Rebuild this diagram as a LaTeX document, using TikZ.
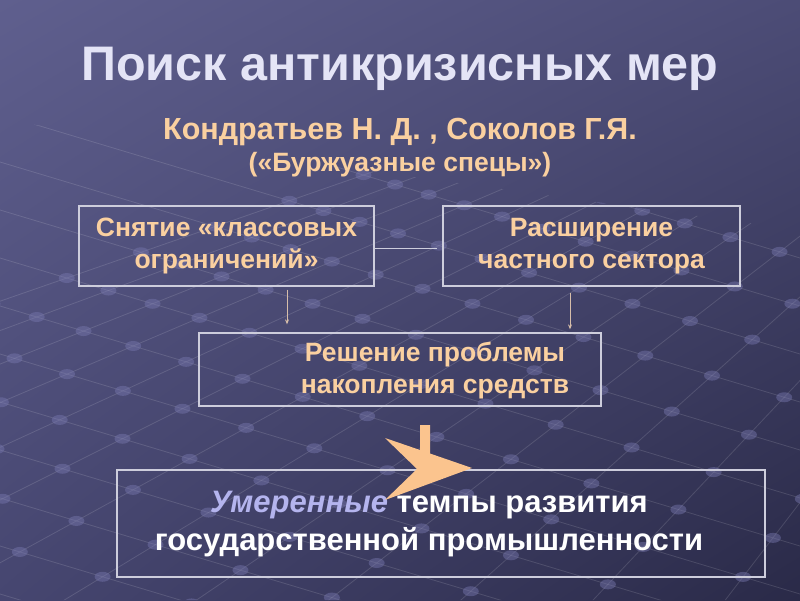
\documentclass[tikz,border=0pt]{standalone}
\usepackage{fontspec}
\setmainfont{Liberation Sans}
\usetikzlibrary{arrows.meta,shadings}
\definecolor{bgUL}{RGB}{95,95,142}
\definecolor{bgUR}{RGB}{76,76,118}
\definecolor{bgLL}{RGB}{70,70,112}
\definecolor{bgLR}{RGB}{42,42,72}
\definecolor{titlec}{RGB}{228,228,246}
\definecolor{peachtext}{RGB}{250,208,160}
\definecolor{boxline}{RGB}{205,205,220}
\definecolor{arrowc}{RGB}{215,190,170}
\definecolor{chevc}{RGB}{251,196,142}
\definecolor{moder}{RGB}{180,180,238}
\definecolor{dotc}{RGB}{120,120,175}
\begin{document}
\begin{tikzpicture}[x=1pt,y=-1pt,
  titlestyle/.style={text=titlec, font=\fontsize{48.5}{54}\selectfont\bfseries, inner sep=0},
  substyle/.style={text=peachtext, font=\fontsize{30.5}{36}\selectfont\bfseries, inner sep=0},
  parenstyle/.style={text=peachtext, font=\fontsize{26.5}{32}\selectfont\bfseries, inner sep=0},
  box/.style={draw=boxline, line width=1.3pt, inner sep=0},
  peach/.style={text=peachtext, font=\fontsize{26.5}{32}\selectfont\bfseries, align=center},
  bigtext/.style={text=white, font=\fontsize{31}{38}\selectfont\bfseries, align=center},
  link/.style={draw=boxline, line width=0.8pt},
  drop/.style={draw=arrowc, line width=0.8pt, -{Stealth[length=5pt,width=4pt]}},
  gridline/.style={draw=white, opacity=0.13, line width=0.8pt},
  griddot/.style={fill=dotc, opacity=0.45},
]
\useasboundingbox (0,0) rectangle (800,600);
\shade[upper left=bgUL, upper right=bgUR, lower left=bgLL, lower right=bgLR] (0,0) rectangle (800,600);

% background perspective grid
\begin{scope}
\clip (0,120) -- (800,230) -- (800,600) -- (0,600) -- cycle;
\foreach \j in {-5,...,10} {
  \draw[gridline] (1300,-150) -- ({-300+141*\j},650);
}
\foreach \k in {-10,...,4} {
  \draw[gridline] (-10,{447+48*\k}) -- (810,{693+48*\k});
}
\foreach \j in {-5,...,10} {
  \foreach \k in {-10,...,4} {
    \pgfmathsetmacro{\Xj}{-300+141*\j}
    \pgfmathsetmacro{\tpar}{(990+48*\k)/(800-0.3*(\Xj-1300))}
    \pgfmathsetmacro{\px}{1300+\tpar*(\Xj-1300)}
    \pgfmathsetmacro{\py}{-150+800*\tpar}
    \fill[griddot] (\px,\py) ellipse [x radius=8pt, y radius=5pt];
  }
}
\end{scope}

% titles
\node[titlestyle, anchor=base] (title) at (400,80) {Поиск антикризисных мер};
\node[substyle, anchor=base] (sub) at (400,139) {Кондратьев Н. Д. , Соколов Г.Я.};
\node[parenstyle, anchor=base] (paren) at (400,171) {(«Буржуазные спецы»)};

% boxes
\node[box, peach, minimum width=295pt, minimum height=80pt] (b1) at (226.5,246) {Снятие «классовых\\ограничений»};
\node[box, peach, minimum width=297pt, minimum height=80pt] (b2) at (591.5,246) {Расширение\\частного сектора};
\node[box, minimum width=402pt, minimum height=73pt] (b3) at (400,369.5) {};
\node[peach] (t3) at (435,371) {Решение проблемы\\накопления средств};
\node[box, minimum width=648pt, minimum height=107pt] (b4) at (441,523.5) {};
\node[bigtext] (t4) at (429,524) {{\color{moder}\itshape Умеренные} темпы развития\\государственной промышленности};

% connectors
\coordinate (lend) at (437,248);
\draw[link] (b1.east |- lend) -- (lend);
\draw[drop, shorten <=3pt, shorten >=8pt] ([xshift=60.5pt]b1.south) -- ([xshift=60.5pt]b1.south |- b3.north);
\draw[drop, shorten <=6pt, shorten >=3pt] ([xshift=-21.5pt]b2.south) -- ([xshift=-21.5pt]b2.south |- b3.north);

% chevron arrow
\fill[chevc] (420,425) -- (430,425) -- (430,453.5) -- (472,468) -- (385,500) -- (417,469) -- (385,438) -- (420,450) -- cycle;
\end{tikzpicture}
\end{document}
